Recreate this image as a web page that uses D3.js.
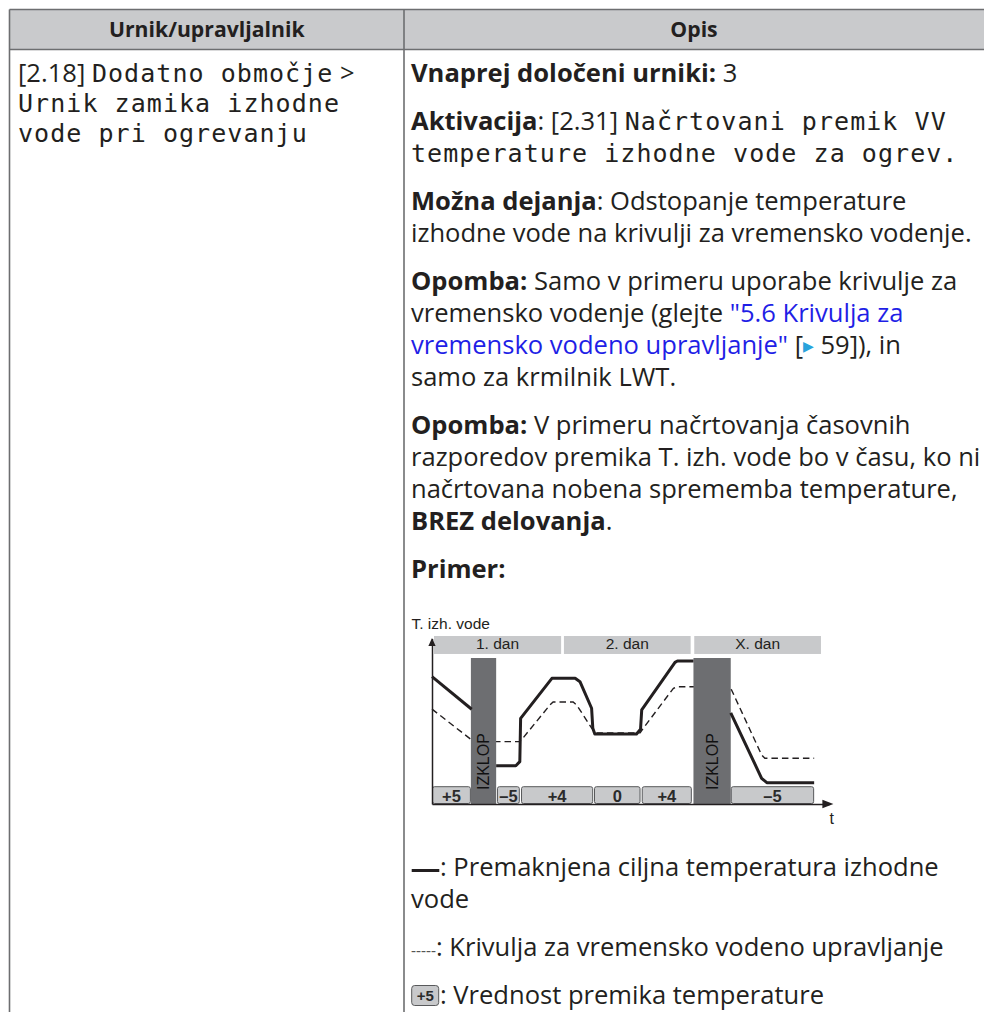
<!DOCTYPE html>
<html><head><meta charset="utf-8">
<script src="https://cdn.jsdelivr.net/npm/d3@7"></script>
<style>
html,body{margin:0;padding:0;background:#fff;}
svg{display:block;}
</style></head><body>
<svg id="c" width="984" height="1012"></svg>
<script>
// ---------------- data ----------------
const headerLabels = ["Urnik/upravljalnik", "Opis"];

const dayLabels = ["1. dan", "2. dan", "X. dan"];
const dayStart = [0.5, 32.9, 65.4];
const dayEnd   = [32.2, 64.5, 97.0];

const offLabel = "IZKLOP";
const offStart = [9.7, 65.2];
const offEnd   = [16.0, 74.5];

const shiftLabels = ["+5", "–5", "+4", "0", "+4", "–5"];
const shiftStart  = [0, 16.2, 22.2, 40.4, 52.3, 74.5];
const shiftEnd    = [9.7, 21.9, 40.2, 52.0, 64.8, 95.3];

// shifted target leaving water temperature (solid), three pieces
const shiftedT1 = [0, 9.9];
const shiftedV1 = [75.8, 56.4];
const shiftedT2 = [16.0, 20.9, 21.9, 22.1, 29.9, 35.7, 36.9, 39.8, 40.1, 40.6, 51.0, 52.0, 52.3, 60.6, 61.2, 65.2];
const shiftedV2 = [22.8, 22.8, 25.2, 51.0, 74.8, 74.8, 72.8, 57.0, 45.1, 41.7, 41.7, 44.5, 56.0, 84.3, 85.1, 85.1];
const shiftedT3 = [74.5, 82.2, 83.5, 95.3];
const shiftedV3 = [54.3, 15.3, 12.7, 12.7];

// weather-dependent curve (dashed)
const curveT = [0, 9.9, 10.2, 21.9, 22.7, 29.4, 30.2, 35.2, 36.1, 39.8, 41.1, 50.9, 51.9, 52.7, 60.2, 61.4, 73.5, 74.7, 82.2, 83.0, 95.3];
const curveV = [56.5, 38.1, 37.1, 37.1, 39.3, 58.9, 60.7, 60.7, 58.9, 45.2, 42.3, 42.3, 42.4, 45.1, 68.9, 69.8, 69.8, 67.9, 29.2, 27.2, 27.2];

const yAxisLabel = "T. izh. vode";
const xAxisLabel = "t";

// text content (b = bold, m = monospace, l = link, r = regular, tri = link arrow)
const leftLines = [
  [["r","[2.18]"],["r"," "],["m","Dodatno območje"],["r"," >"]],
  [["m","Urnik zamika izhodne"]],
  [["m","vode pri ogrevanju"]]
];
const rightParagraphs = [
  [[["b","Vnaprej določeni urniki:"],["r"," 3"]]],
  [[["b","Aktivacija"],["r",": [2.31] "],["m","Načrtovani premik VV"]],
   [["m","temperature izhodne vode za ogrev."]]],
  [[["b","Možna dejanja"],["r",": Odstopanje temperature"]],
   [["r","izhodne vode na krivulji za vremensko vodenje."]]],
  [[["b","Opomba:"],["r"," Samo v primeru uporabe krivulje za"]],
   [["r","vremensko vodenje (glejte "],["l","\"5.6 Krivulja za"]],
   [["l","vremensko vodeno upravljanje\""],["r"," ["],["tri","▶"],["r"," 59]), in"]],
   [["r","samo za krmilnik LWT."]]],
  [[["b","Opomba:"],["r"," V primeru načrtovanja časovnih"]],
   [["r","razporedov premika T. izh. vode bo v času, ko ni"]],
   [["r","načrtovana nobena sprememba temperature,"]],
   [["b","BREZ delovanja"],["r","."]]],
  [[["b","Primer:"]]]
];
const legendLines = [
  [["r",": Premaknjena ciljna temperatura izhodne"]],
  [["r","vode"]],
  [["r",": Krivulja za vremensko vodeno upravljanje"]],
  [["r",": Vrednost premika temperature"]]
];
const legendBoxLabel = "+5";

// ---------------- drawing ----------------
const svg = d3.select("#c");
const SANS = "'Open Sans', 'Noto Sans', sans-serif";
const MONO = "'DejaVu Sans Mono', 'Liberation Mono', monospace";
const ARIAL = "'Liberation Sans', Arial, sans-serif";
const INK = "#231f20";

// calibrate body font size on a known full-width line
const probe = svg.append("text").attr("font-family", SANS).attr("font-size", 24)
  .text("izhodne vode na krivulji za vremensko vodenje.");
const FS = 24 * 561 / probe.node().getComputedTextLength();
probe.remove();
const MONO_FS = 25;
const MONO_LS = 16.1 - MONO_FS * 0.602;

function writeLine(g, x, yb, segs) {
  const t = g.append("text").attr("x", x).attr("y", yb)
    .attr("font-family", SANS).attr("font-size", FS).attr("fill", INK)
    .attr("xml:space", "preserve").style("white-space", "pre");
  segs.forEach(([k, s]) => {
    const ts = t.append("tspan").text(s);
    if (k === "b") ts.attr("font-weight", 700);
    if (k === "m") ts.attr("font-family", MONO).attr("font-size", MONO_FS).attr("letter-spacing", MONO_LS);
    if (k === "l") ts.attr("fill", "#1f1fe6");
    if (k === "tri") ts.attr("font-family", "'DejaVu Sans', sans-serif").attr("font-size", FS * 0.55)
      .attr("fill", "#29a3dc").attr("dy", -3);
    if (k === "r" && s.startsWith(" 59")) ts.attr("dy", 3);
  });
  return t;
}

// table
const T = {left: 9.5, mid: 404, right: 990, top: 9.5, head: 49.5, bottom: 1020};
svg.append("rect").attr("x", T.left).attr("y", T.top).attr("width", T.right - T.left)
  .attr("height", T.head - T.top).attr("fill", "#c9cacc");
const border = svg.append("g").attr("stroke", "#6d6e70").attr("stroke-width", 1.6).attr("fill", "none");
border.append("line").attr("x1", T.left).attr("x2", T.right).attr("y1", T.top).attr("y2", T.top);
border.append("line").attr("x1", T.left).attr("x2", T.right).attr("y1", T.head).attr("y2", T.head);
border.append("line").attr("x1", T.left).attr("x2", T.left).attr("y1", T.top).attr("y2", T.bottom);
border.append("line").attr("x1", T.mid).attr("x2", T.mid).attr("y1", T.top).attr("y2", T.bottom);

const hg = svg.append("g");
[(T.left + T.mid) / 2, (T.mid + 984) / 2].forEach((c, i) => {
  hg.append("text").attr("x", c).attr("y", 37).attr("text-anchor", "middle")
    .attr("font-family", SANS).attr("font-weight", 700).attr("font-size", FS * 0.83)
    .attr("fill", INK).text(headerLabels[i]);
});

// left column
const lg = svg.append("g");
leftLines.forEach((segs, i) => writeLine(lg, 18, 82 + i * 30, segs));

// right column
const rg = svg.append("g");
let yb = 82;
const RX = 411;
rightParagraphs.forEach((para, pi) => {
  if (pi > 0) yb += 48;
  para.forEach((segs, li) => {
    if (li > 0) yb += 32;
    writeLine(rg, RX, yb, segs);
  });
});

// ---------------- diagram ----------------
const x = d3.scaleLinear().domain([0, 100]).range([432, 833]);
const y = d3.scaleLinear().domain([0, 100]).range([804, 636]);
const dg = svg.append("g");

// day header bars
dg.selectAll("rect.day").data(dayLabels).join("rect").attr("class", "day")
  .attr("x", (d, i) => x(dayStart[i])).attr("width", (d, i) => x(dayEnd[i]) - x(dayStart[i]))
  .attr("y", y(100)).attr("height", y(89.3) - y(100)).attr("fill", "#c8c9cb");
dg.selectAll("text.day").data(dayLabels).join("text").attr("class", "day")
  .attr("x", (d, i) => x((dayStart[i] + dayEnd[i]) / 2)).attr("y", y(89.3) - 4.7)
  .attr("text-anchor", "middle").attr("font-family", ARIAL).attr("font-size", 15.5)
  .attr("fill", "#231f20").text(d => d);

// dashed weather-dependent curve
const line = d3.line().x(d => x(d[0])).y(d => y(d[1]));
dg.append("path").datum(curveT.map((t, i) => [t, curveV[i]])).attr("d", line)
  .attr("fill", "none").attr("stroke", INK).attr("stroke-width", 1.4).attr("stroke-dasharray", "6.5,4");

// off bars
dg.selectAll("rect.off").data(offStart).join("rect").attr("class", "off")
  .attr("x", (d, i) => x(offStart[i])).attr("width", (d, i) => x(offEnd[i]) - x(offStart[i]))
  .attr("y", y(86.9)).attr("height", y(0) - y(86.9)).attr("fill", "#6d6e71");
dg.selectAll("text.off").data(offStart).join("text").attr("class", "off")
  .attr("transform", (d, i) => `translate(${(x(offStart[i]) + x(offEnd[i])) / 2 + 5.5},${y(8.3)}) rotate(-90)`)
  .attr("font-family", ARIAL).attr("font-size", 16).attr("fill", "#111").text(offLabel);

// solid shifted line
[[shiftedT1, shiftedV1], [shiftedT2, shiftedV2], [shiftedT3, shiftedV3]].forEach(([ts, vs]) => {
  dg.append("path").datum(ts.map((t, i) => [t, vs[i]])).attr("d", line)
    .attr("fill", "none").attr("stroke", INK).attr("stroke-width", 3)
    .attr("stroke-linejoin", "round");
});

// shift value boxes
dg.selectAll("rect.shift").data(shiftLabels).join("rect").attr("class", "shift")
  .attr("x", (d, i) => x(shiftStart[i]) + 0.5).attr("width", (d, i) => x(shiftEnd[i]) - x(shiftStart[i]) - 1)
  .attr("y", y(10.3)).attr("height", y(0) - y(10.3) - 0.5).attr("rx", 2)
  .attr("fill", "#c8c9cb").attr("stroke", "#58595b").attr("stroke-width", 1);
dg.selectAll("text.shift").data(shiftLabels).join("text").attr("class", "shift")
  .attr("x", (d, i) => x((shiftStart[i] + shiftEnd[i]) / 2)).attr("y", y(0) - 2.5)
  .attr("text-anchor", "middle").attr("font-family", ARIAL).attr("font-weight", 700)
  .attr("font-size", 16.5).attr("fill", "#2b2b2b").text(d => d);

// axes
const yAxisScale = y.copy().domain([0, 98.5]).range([y(0), y(98.5)]);
const xAxisScale = x.copy().domain([0, 99]).range([x(0), x(99)]);
const ax = dg.append("g").attr("transform", `translate(${x(0)},0)`)
  .call(d3.axisLeft(yAxisScale).tickValues([]).tickSizeOuter(0));
const bx = dg.append("g").attr("transform", `translate(0,${y(0)})`)
  .call(d3.axisBottom(xAxisScale).tickValues([]).tickSizeOuter(0));
[ax, bx].forEach(a => a.select(".domain").attr("stroke", INK).attr("stroke-width", 1.5));
dg.append("path").attr("d", `M${x(0)},${y(98.8)} l-3.6,8 l7.2,0 z`).attr("fill", INK);
dg.append("path").attr("d", `M${x(100.1)},${y(0)} l-11,-4.2 l0,8.4 z`).attr("fill", INK);
dg.append("text").attr("x", 411.5).attr("y", 629.3).attr("font-family", ARIAL)
  .attr("font-size", 15.5).attr("fill", INK).text(yAxisLabel);
dg.append("text").attr("x", x(99.1)).attr("y", 824).attr("font-family", ARIAL)
  .attr("font-size", 16).attr("fill", INK).text(xAxisLabel);

// ---------------- legend ----------------
const leg = svg.append("g");
const L0 = 876;
leg.append("line").attr("x1", 411.7).attr("x2", 439.3).attr("y1", L0 - 5.5).attr("y2", L0 - 5.5)
  .attr("stroke", INK).attr("stroke-width", 3);
writeLine(leg, 440, L0, legendLines[0]);
writeLine(leg, RX, L0 + 32, legendLines[1]);
const dashT = writeLine(leg, RX, L0 + 80, []);
dashT.append("tspan").attr("font-size", 15.5).attr("fill", "#555").text("-----");
legendLines[2].forEach(([k, s]) => dashT.append("tspan").attr("font-size", FS).text(s));
const L3 = L0 + 128;
leg.append("rect").attr("x", 411.7).attr("y", L3 - 18.5).attr("width", 27).attr("height", 20).attr("rx", 3)
  .attr("fill", "#c8c9cb").attr("stroke", "#58595b").attr("stroke-width", 1);
leg.append("text").attr("x", 425.2).attr("y", L3 - 3).attr("text-anchor", "middle")
  .attr("font-family", ARIAL).attr("font-weight", 700).attr("font-size", 15).attr("fill", "#2b2b2b")
  .text(legendBoxLabel);
writeLine(leg, 440, L3, legendLines[3]);
</script>
</body></html>
